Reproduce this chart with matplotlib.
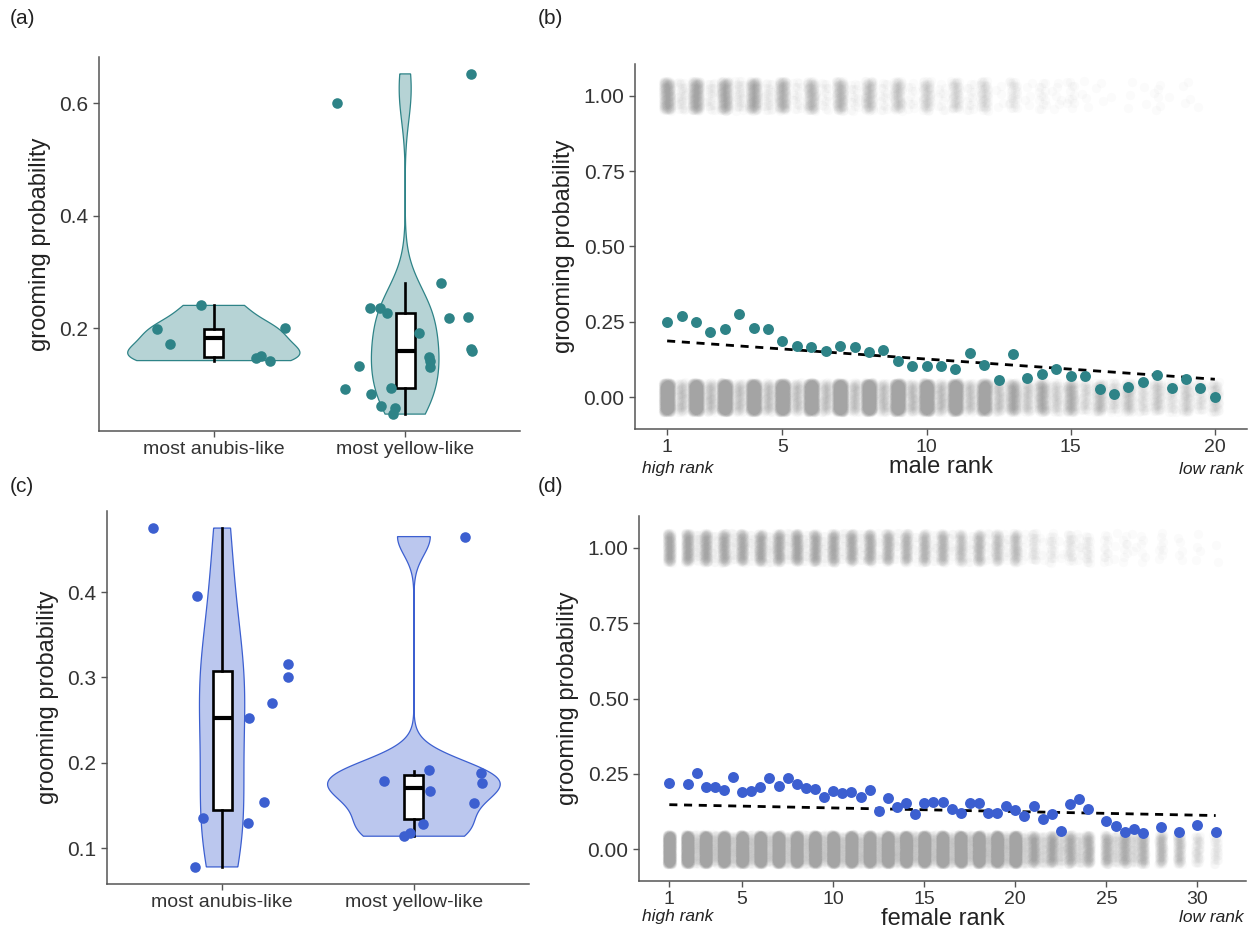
import numpy as np
import matplotlib.pyplot as plt

plt.rcParams['font.family'] = ['Liberation Sans', 'DejaVu Sans']

W, H = 1252, 932

# ---- data -------------------------------------------------------------
categories = ['most anubis-like', 'most yellow-like']

# (a) males: grooming probability per individual, with jitter offsets
a_anubis = [0.241, 0.199, 0.173, 0.200, 0.148, 0.151, 0.143]
a_anubis_jit = [-0.065, -0.296, -0.228, 0.373, 0.221, 0.248, 0.294]
a_yellow = [0.600, 0.652, 0.280, 0.237, 0.237, 0.227, 0.218, 0.221, 0.192, 0.163,
            0.160, 0.150, 0.143, 0.132, 0.134, 0.092, 0.095, 0.083, 0.063, 0.058, 0.048]
a_yellow_jit = [-0.358, 0.342, 0.188, -0.184, -0.131, -0.097, 0.227, 0.326, 0.071, 0.342,
                0.347, 0.126, 0.129, 0.129, -0.242, -0.317, -0.074, -0.181, -0.127, -0.051, -0.062]
# box stats: q1, median, q3, lower whisker, upper whisker
a_box_anubis = [0.150, 0.184, 0.199, 0.143, 0.241]
a_box_yellow = [0.094, 0.160, 0.228, 0.048, 0.280]

# (c) females
c_anubis = [0.475, 0.395, 0.316, 0.300, 0.270, 0.252, 0.154, 0.135, 0.129, 0.078]
c_anubis_jit = [-0.358, -0.131, 0.345, 0.345, 0.262, 0.138, 0.221, -0.097, 0.133, -0.140]
c_yellow = [0.465, 0.191, 0.188, 0.176, 0.179, 0.167, 0.153, 0.128, 0.118, 0.114]
c_yellow_jit = [0.267, 0.081, 0.350, 0.356, -0.154, 0.085, 0.311, 0.046, -0.018, -0.051]
c_box_anubis = [0.145, 0.252, 0.308, 0.078, 0.475]
c_box_yellow = [0.134, 0.171, 0.186, 0.114, 0.190]

# (b) male rank
male_rank = np.arange(1, 20.5, 0.5)
male_prob = [0.250, 0.269, 0.250, 0.216, 0.225, 0.275, 0.231, 0.225, 0.187, 0.171,
             0.167, 0.153, 0.170, 0.167, 0.149, 0.157, 0.121, 0.105, 0.103, 0.105,
             0.095, 0.148, 0.107, 0.056, 0.142, 0.065, 0.077, 0.093, 0.071, 0.071,
             0.027, 0.012, 0.035, 0.052, 0.073, 0.030, 0.062, 0.030, 0.000]
# number of observations behind each point (the grey raw 0/1 cloud)
male_n = [800, 120, 800, 120, 800, 120, 760, 120, 760, 110, 720, 110, 720, 110, 680, 110,
          680, 110, 640, 110, 600, 100, 480, 90, 220, 80, 180, 70, 160, 55, 110, 50,
          90, 45, 80, 40, 70, 40, 60]
male_trend_x = [1, 20]
male_trend_y = [0.187, 0.060]

# (d) female rank
female_rank = [1, 2, 2.5, 3, 3.5, 4, 4.5, 5, 5.5, 6, 6.5, 7, 7.5, 8, 8.5, 9, 9.5, 10,
               10.5, 11, 11.5, 12, 12.5, 13, 13.5, 14, 14.5, 15, 15.5, 16, 16.5, 17,
               17.5, 18, 18.5, 19, 19.5, 20, 20.5, 21, 21.5, 22, 22.5, 23, 23.5, 24,
               25, 25.5, 26, 26.5, 27, 28, 29, 30, 31]
female_prob = [0.219, 0.217, 0.252, 0.205, 0.205, 0.198, 0.239, 0.189, 0.192, 0.205,
               0.238, 0.210, 0.237, 0.216, 0.203, 0.200, 0.175, 0.192, 0.186, 0.189,
               0.173, 0.196, 0.127, 0.171, 0.139, 0.154, 0.118, 0.154, 0.156, 0.156,
               0.134, 0.120, 0.152, 0.152, 0.121, 0.121, 0.143, 0.132, 0.110, 0.143,
               0.101, 0.117, 0.062, 0.151, 0.167, 0.134, 0.095, 0.077, 0.057, 0.068,
               0.054, 0.075, 0.056, 0.079, 0.056]
female_n = [760, 760, 80, 760, 80, 760, 80, 760, 80, 760, 80, 760, 80, 760, 80, 760,
            80, 760, 80, 740, 80, 720, 80, 720, 80, 720, 80, 700, 80, 700, 80, 680,
            80, 680, 80, 660, 80, 640, 60, 200, 50, 180, 50, 170, 50, 160,
            140, 45, 140, 45, 120, 110, 90, 45, 30]
female_trend_x = [1, 31]
female_trend_y = [0.148, 0.112]

teal = '#2E8387'
blue = '#3C5FD0'
grey = '#A4A4A4'


def px_axes(fig, l, t, r, b):
    return fig.add_axes([l / W, 1 - b / H, (r - l) / W, (b - t) / H])


def style(ax):
    for s in ['top', 'right']:
        ax.spines[s].set_visible(False)
    for s in ['left', 'bottom']:
        ax.spines[s].set_color('#555555')
        ax.spines[s].set_linewidth(1.1)
    ax.tick_params(colors='#555555', labelcolor='#333333', length=4, width=1)
    ax.tick_params(axis='y', labelsize=15)
    ax.tick_params(axis='x', labelsize=14)


def kde(vals, grid):
    v = np.asarray(vals)
    sd = v.std(ddof=1)
    iqr = np.percentile(v, 75) - np.percentile(v, 25)
    bw = 0.9 * min(sd, iqr / 1.34) * len(v) ** -0.2
    z = (grid[:, None] - v[None, :]) / bw
    return np.exp(-0.5 * z ** 2).mean(axis=1) / (bw * np.sqrt(2 * np.pi))


def violin_panel(ax, groups, jitters, boxes, color, ylim, yticks):
    grids, dens = [], []
    for v in groups:
        g = np.linspace(min(v), max(v), 512)
        grids.append(g)
        dens.append(kde(v, g))
    dmax = max(d.max() for d in dens)
    for i, (g, d) in enumerate(zip(grids, dens)):
        pos = i + 1
        w = 0.45 * d / dmax
        xs = np.r_[pos - w, (pos + w)[::-1]]
        ys = np.r_[g, g[::-1]]
        ax.fill(xs, ys, facecolor=color, alpha=0.35, edgecolor='none', zorder=1)
        ax.fill(xs, ys, facecolor='none', edgecolor=color, lw=0.9, zorder=1)
    stats = [dict(q1=b[0], med=b[1], q3=b[2], whislo=b[3], whishi=b[4]) for b in boxes]
    ax.bxp(stats, positions=[1, 2], widths=0.1, showfliers=False, showcaps=False,
           patch_artist=True,
           boxprops=dict(facecolor='white', edgecolor='black', linewidth=1.9),
           medianprops=dict(color='black', linewidth=3),
           whiskerprops=dict(color='black', linewidth=1.9), zorder=3)
    for i, (v, j) in enumerate(zip(groups, jitters)):
        ax.scatter(i + 1 + np.asarray(j), v, s=58, color=color, linewidths=0, zorder=4)
    ax.set_xlim(0.4, 2.6)
    ax.set_ylim(*ylim)
    ax.set_xticks([1, 2], labels=categories)
    ax.set_yticks(yticks, labels=[f'{t:.1f}' for t in yticks])
    ax.set_ylabel('grooming probability', fontsize=17, color='#222222', labelpad=6)
    style(ax)


A1 = 1 / 1.32471795724
A2 = 1 / 1.32471795724 ** 2


def rank_panel(ax, ranks, prob, n_obs, trend_x, trend_y, color, xlim, xticks, xlabel):
    gx, gy = [], []
    k = 0
    for r, p, n in zip(ranks, prob, n_obs):
        idx = np.arange(k, k + n)
        k += n
        u = (0.5 + A1 * idx) % 1
        v = (0.5 + A2 * idx) % 1
        n1 = int(round(p * n))
        outcome = np.where(np.arange(n) < n1, 1.0, 0.0)
        gx.append(r + (2 * u - 1) * 0.15)
        gy.append(outcome + (2 * v - 1) * 0.05)
    ax.scatter(np.concatenate(gx), np.concatenate(gy), s=44, color=grey, alpha=0.045,
               linewidths=0, zorder=1)
    ax.plot(trend_x, trend_y, color='black', ls=(0, (2.9, 2.4)), lw=2, zorder=2)
    ax.scatter(ranks, prob, s=62, color=color, linewidths=0, zorder=3)
    ax.set_xlim(*xlim)
    ax.set_ylim(-0.105, 1.105)
    ax.set_xticks(xticks)
    yt = [0, 0.25, 0.5, 0.75, 1.0]
    ax.set_yticks(yt, labels=[f'{t:.2f}' for t in yt])
    ax.set_ylabel('grooming probability', fontsize=17, color='#222222', labelpad=6)
    ax.set_xlabel(xlabel, fontsize=17, color='#222222', labelpad=0)
    style(ax)


fig = plt.figure(figsize=(W / 100, H / 100), dpi=100)

ax_a = px_axes(fig, 99, 57, 520, 431)
violin_panel(ax_a, [a_anubis, a_yellow], [a_anubis_jit, a_yellow_jit],
             [a_box_anubis, a_box_yellow], teal, (0.018, 0.682), [0.2, 0.4, 0.6])

ax_c = px_axes(fig, 107, 511, 529, 884)
violin_panel(ax_c, [c_anubis, c_yellow], [c_anubis_jit, c_yellow_jit],
             [c_box_anubis, c_box_yellow], blue, (0.058, 0.495), [0.1, 0.2, 0.3, 0.4])

ax_b = px_axes(fig, 635, 64, 1247, 429)
rank_panel(ax_b, male_rank, male_prob, male_n, male_trend_x, male_trend_y, teal,
           (-0.115, 21.115), [1, 5, 10, 15, 20], 'male rank')

ax_d = px_axes(fig, 639, 516, 1246, 881)
rank_panel(ax_d, female_rank, female_prob, female_n, female_trend_x, female_trend_y, blue,
           (-0.665, 32.665), [1, 5, 10, 15, 20, 25, 30], 'female rank')

# panel letters and rank direction notes
for lab, x, y in [('(a)', 10, 18), ('(b)', 538, 18), ('(c)', 10, 487), ('(d)', 538, 487)]:
    fig.text(x / W, 1 - y / H, lab, fontsize=15, va='center', ha='left', color='#222222')
for y in [469, 917]:
    fig.text(642 / W, 1 - y / H, 'high rank', fontsize=12.5, style='italic',
             va='center', ha='left', color='#222222')
    fig.text(1244 / W, 1 - y / H, 'low rank', fontsize=12.5, style='italic',
             va='center', ha='right', color='#222222')

fig.savefig('out.png', dpi=100)
